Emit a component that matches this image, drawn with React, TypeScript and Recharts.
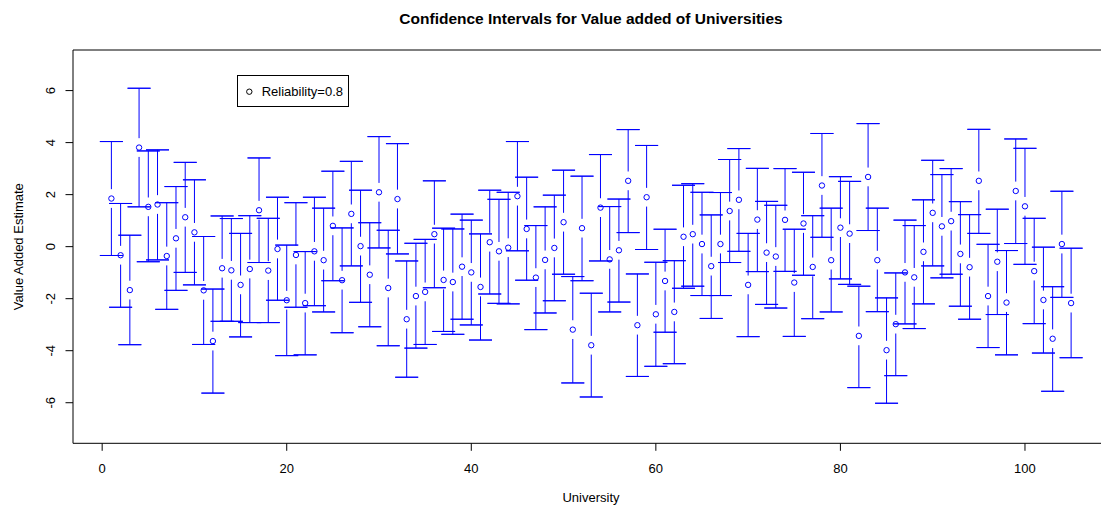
import { ScatterChart, Scatter, XAxis, YAxis, ErrorBar, ReferenceArea } from 'recharts';

// university index, value-added estimate and the ends of its confidence interval
const universities = Array.from({ length: 105 }, (_, i) => i + 1);

const estimates = [
  1.85, -0.33, -1.67, 3.81, 1.53, 1.62, -0.36, 0.32, 1.13, 0.55,
  -1.68, -3.63, -0.83, -0.91, -1.47, -0.86, 1.40, -0.92, -0.09, -2.06,
  -0.32, -2.17, -0.18, -0.52, 0.80, -1.29, 1.26, 0.02, -1.08, 2.09,
  -1.59, 1.83, -2.79, -1.90, -1.74, 0.48, -1.28, -1.36, -0.77, -0.99,
  -1.55, 0.17, -0.18, -0.04, 1.94, 0.68, -1.19, -0.51, -0.05, 0.94,
  -3.19, 0.71, -3.79, 1.50, -0.49, -0.14, 2.53, -3.02, 1.90, -2.60,
  -1.32, -2.51, 0.38, 0.48, 0.10, -0.75, 0.10, 1.37, 1.80, -1.47,
  1.04, -0.23, -0.38, 1.03, -1.38, 0.89, -0.78, 2.35, -0.52, 0.73,
  0.50, -3.43, 2.68, -0.52, -3.98, -2.98, -0.99, -1.18, -0.20, 1.30,
  0.78, 0.98, -0.28, -0.79, 2.53, -1.90, -0.58, -2.15, 2.14, 1.55,
  -0.94, -2.05, -3.54, 0.10, -2.17,
];

const upperLimits = [
  4.04, 1.66, 0.44, 6.09, 3.68, 3.72, 1.69, 2.31, 3.24, 2.57,
  0.39, -1.63, 1.18, 1.08, 0.51, 1.19, 3.41, 1.09, 1.90, 0.06,
  1.69, -0.19, 1.90, 1.48, 2.90, 0.72, 3.28, 2.17, 0.92, 4.23,
  0.63, 3.96, -0.55, 0.13, 0.28, 2.53, 0.71, 0.68, 1.25, 1.02,
  0.49, 2.17, 1.82, 2.09, 4.04, 2.67, 0.81, 1.53, 1.98, 2.94,
  -1.15, 2.71, -1.79, 3.54, 1.54, 1.83, 4.50, -1.05, 3.89, -0.60,
  0.67, -0.54, 2.36, 2.42, 2.09, 1.22, 2.08, 3.35, 3.77, 0.51,
  3.01, 1.74, 1.59, 3.00, 0.67, 2.86, 1.19, 4.35, 1.48, 2.69,
  2.51, -1.52, 4.73, 1.48, -1.97, -1.01, 1.02, 0.81, 1.80, 3.32,
  2.77, 3.00, 1.73, 1.23, 4.51, 0.09, 1.44, -0.15, 4.14, 3.78,
  1.09, -0.02, -1.54, 2.13, -0.06,
];

const lowerLimits = [
  -0.34, -2.33, -3.77, 1.53, -0.58, -0.51, -2.41, -1.68, -0.99, -1.47,
  -3.76, -5.63, -2.87, -2.87, -3.47, -2.92, -0.61, -2.92, -2.06, -4.19,
  -2.33, -4.16, -2.27, -2.51, -1.31, -3.31, -0.74, -2.14, -3.08, -0.05,
  -3.81, -0.28, -5.02, -3.90, -3.76, -1.58, -3.26, -3.37, -2.79, -3.01,
  -3.59, -1.82, -2.18, -2.20, -0.16, -1.29, -3.19, -2.55, -2.08, -1.06,
  -5.24, -1.31, -5.78, -0.55, -2.51, -2.13, 0.54, -4.99, -0.11, -4.60,
  -3.29, -4.50, -1.60, -1.52, -1.88, -2.76, -1.88, -0.61, -0.18, -3.46,
  -0.96, -2.22, -2.36, -0.95, -3.45, -1.10, -2.77, 0.36, -2.51, -1.24,
  -1.45, -5.42, 0.62, -2.50, -6.02, -4.96, -2.97, -3.15, -2.20, -0.74,
  -1.20, -1.06, -2.29, -2.79, 0.51, -3.88, -2.61, -4.16, 0.12, -0.68,
  -2.96, -4.09, -5.56, -1.95, -4.27,
];

const xTicks = [0, 20, 40, 60, 80, 100];
const yTicks = [-6, -4, -2, 0, 2, 4, 6];

const X_DOMAIN: [number, number] = [-3.16, 109.16];
const Y_DOMAIN: [number, number] = [-7.56, 7.56];
const GAP = 0.36; // blank around each point, like plotCI's gap
const FONT = '"Liberation Sans", Arial, Helvetica, sans-serif';
const BLUE = '#0000ff';

const points = universities.map((u, i) => ({ x: u, y: estimates[i] }));
// vertical whiskers, stopping short of the point
const upperSegs = universities.map((u, i) => ({ x: u, y: upperLimits[i], err: [upperLimits[i] - estimates[i] - GAP, 0] }));
const lowerSegs = universities.map((u, i) => ({ x: u, y: lowerLimits[i], err: [0, estimates[i] - GAP - lowerLimits[i]] }));
// flat caps at both ends
const caps = [...upperLimits, ...lowerLimits].map((v, i) => ({ x: universities[i % universities.length], y: v, err: [0, 0] }));

const XTick = ({ x, y, payload }: any) => (
  <text x={x} y={y} textAnchor="middle" fontSize={13} fontFamily={FONT} fill="#000">
    {payload.value}
  </text>
);

const YTick = ({ x, y, payload }: any) => (
  <text
    x={x}
    y={y}
    transform={`rotate(-90 ${x} ${y})`}
    textAnchor="middle"
    fontSize={13}
    fontFamily={FONT}
    fill="#000"
  >
    {payload.value}
  </text>
);

const hollow = (p: any) => <circle cx={p.cx} cy={p.cy} r={2.7} fill="none" stroke={BLUE} strokeWidth={1} />;
const nothing = () => <g />;

export default function App() {
  return (
    <div
      style={{
        position: 'fixed',
        left: 0,
        top: 0,
        width: 1101,
        height: 510,
        overflow: 'hidden',
        background: '#fff',
      }}
    >
      <ScatterChart width={1130} height={510} margin={{ top: 50, right: 20.5, bottom: 26.7, left: 0 }}>
        <XAxis
          type="number"
          dataKey="x"
          domain={X_DOMAIN}
          allowDataOverflow
          ticks={xTicks}
          axisLine={false}
          tickLine={{ stroke: '#000' }}
          tickSize={7.5}
          tickMargin={22.5}
          height={40}
          tick={<XTick />}
        />
        <YAxis
          type="number"
          dataKey="y"
          domain={Y_DOMAIN}
          allowDataOverflow
          ticks={yTicks}
          axisLine={false}
          tickLine={{ stroke: '#000' }}
          tickSize={7.5}
          tickMargin={10.5}
          width={73}
          tick={<YTick />}
        />
        <ReferenceArea
          x1={X_DOMAIN[0]}
          x2={X_DOMAIN[1]}
          y1={Y_DOMAIN[0]}
          y2={Y_DOMAIN[1]}
          fill="none"
          stroke="#000"
          strokeWidth={1}
        />
        <Scatter data={upperSegs} shape={nothing} isAnimationActive={false}>
          <ErrorBar dataKey="err" direction="y" width={0} stroke={BLUE} strokeWidth={1} isAnimationActive={false} />
        </Scatter>
        <Scatter data={lowerSegs} shape={nothing} isAnimationActive={false}>
          <ErrorBar dataKey="err" direction="y" width={0} stroke={BLUE} strokeWidth={1} isAnimationActive={false} />
        </Scatter>
        <Scatter data={caps} shape={nothing} isAnimationActive={false}>
          <ErrorBar dataKey="err" direction="y" width={11.5} stroke={BLUE} strokeWidth={1} isAnimationActive={false} />
        </Scatter>
        <Scatter data={points} shape={hollow} isAnimationActive={false} />
      </ScatterChart>
      <svg
        width={1101}
        height={510}
        style={{ position: 'absolute', left: 0, top: 0, pointerEvents: 'none' }}
        fontFamily={FONT}
      >
        <text x={591} y={24} textAnchor="middle" fontSize={15.5} fontWeight="bold" fill="#000">
          Confidence Intervals for Value added of Universities
        </text>
        <text x={591} y={502} textAnchor="middle" fontSize={13} fill="#000">
          University
        </text>
        <text x={23.3} y={246.7} transform="rotate(-90 23.3 246.7)" textAnchor="middle" fontSize={13} fill="#000">
          Value Added Estimate
        </text>
        <rect x={237.5} y={75.5} width={111} height={31} fill="#fff" stroke="#000" strokeWidth={1} />
        <circle cx={249.3} cy={91.7} r={2.7} fill="none" stroke="#000" strokeWidth={1} />
        <text x={261.7} y={96} fontSize={13} fill="#000">
          Reliability=0.8
        </text>
      </svg>
    </div>
  );
}
